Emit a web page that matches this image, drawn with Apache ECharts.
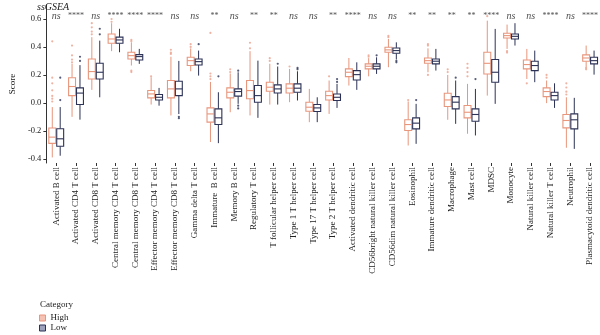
<!DOCTYPE html>
<html><head><meta charset="utf-8">
<script src="https://cdn.jsdelivr.net/npm/echarts@6/dist/echarts.min.js"></script>
<style>html,body{margin:0;padding:0;background:#fff}#c{width:600px;height:335px}</style>
</head><body><div id="c"></div>
<script>
const categories = ["Activated B cell","Activated CD4 T cell","Activated CD8 T cell","Central memory CD4 T cell","Central memory CD8 T cell","Effector memory CD4 T cell","Effector memory CD8 T cell","Gamma delta T cell","Immature  B cell","Memory B cell","Regulatory T cell","T follicular helper cell","Type 1 T helper cell","Type 17 T helper cell","Type 2 T helper cell","Activated dendritic cell","CD56bright natural killer cell","CD56dim natural killer cell","Eosinophil","Immature dendritic cell","Macrophage","Mast cell","MDSC","Monocyte","Natural killer cell","Natural killer T cell","Neutrophil","Plasmacytoid dendritic cell"];
const sigLabels = ["ns","****","ns","****","****","****","ns","ns","**","ns","**","**","ns","ns","**","****","ns","ns","**","**","**","**","****","ns","ns","****","ns","****"];
const yTicks = [-0.4,-0.2,0,0.2,0.4,0.6];
// [min, q1, median, q3, max]
const highBoxes = [
 [-0.39,-0.29,-0.245,-0.18,-0.03],
 [-0.10,0.052,0.117,0.18,0.28],
 [0.093,0.171,0.224,0.314,0.47],
 [0.37,0.426,0.457,0.493,0.57],
 [0.267,0.314,0.338,0.362,0.433],
 [-0.012,0.036,0.064,0.088,0.183],
 [-0.09,0.036,0.10,0.16,0.33],
 [0.226,0.267,0.302,0.326,0.39],
 [-0.28,-0.138,-0.079,-0.036,0.15],
 [-0.067,0.036,0.076,0.107,0.21],
 [-0.09,0.029,0.088,0.16,0.37],
 [-0.012,0.083,0.112,0.148,0.28],
 [0.005,0.071,0.105,0.136,0.243],
 [-0.138,-0.06,-0.031,0.005,0.10],
 [-0.079,0.021,0.052,0.083,0.16],
 [0.124,0.188,0.219,0.243,0.321],
 [0.19,0.243,0.262,0.279,0.32],
 [0.255,0.362,0.379,0.398,0.457],
 [-0.305,-0.198,-0.155,-0.121,0.01],
 [0.219,0.283,0.302,0.321,0.39],
 [-0.121,-0.026,0.021,0.069,0.20],
 [-0.221,-0.107,-0.067,-0.019,0.136],
 [0.052,0.207,0.283,0.362,0.588],
 [0.386,0.464,0.481,0.498,0.56],
 [0.171,0.243,0.274,0.307,0.386],
 [-0.002,0.045,0.081,0.107,0.16],
 [-0.321,-0.179,-0.126,-0.083,0.04],
 [0.255,0.298,0.321,0.343,0.41]
];
const lowBoxes = [
 [-0.378,-0.31,-0.257,-0.185,-0.03],
 [-0.12,-0.012,0.07,0.107,0.27],
 [0.04,0.171,0.219,0.283,0.445],
 [0.362,0.426,0.45,0.47,0.53],
 [0.279,0.307,0.331,0.345,0.386],
 [-0.02,0.021,0.04,0.06,0.107],
 [-0.08,0.052,0.10,0.155,0.30],
 [0.195,0.271,0.295,0.314,0.374],
 [-0.288,-0.155,-0.107,-0.043,0.076],
 [-0.007,0.048,0.081,0.10,0.219],
 [-0.107,0.005,0.052,0.124,0.302],
 [-0.012,0.071,0.10,0.129,0.26],
 [0.017,0.076,0.105,0.136,0.226],
 [-0.138,-0.062,-0.036,-0.012,0.04],
 [-0.036,0.017,0.04,0.064,0.136],
 [0.093,0.164,0.202,0.231,0.29],
 [0.207,0.243,0.262,0.279,0.326],
 [0.31,0.355,0.374,0.393,0.433],
 [-0.293,-0.186,-0.145,-0.107,-0.007],
 [0.231,0.279,0.298,0.314,0.386],
 [-0.15,-0.043,0.005,0.045,0.16],
 [-0.233,-0.131,-0.083,-0.043,0.10],
 [-0.007,0.148,0.219,0.31,0.529],
 [0.41,0.457,0.476,0.493,0.57],
 [0.148,0.231,0.267,0.298,0.374],
 [-0.036,0.021,0.052,0.076,0.14],
 [-0.329,-0.186,-0.121,-0.079,0.036],
 [0.202,0.279,0.302,0.326,0.374]
];
// [category index, value]
const highOutliers = [
 [0,0.44],[0,0.18],[0,0.14],[0,0.09],[0,0.05],[0,0.03],[0,0.01],
 [1,0.41],[1,0.34],[1,0.31],[1,0.29],
 [2,0.57],[2,0.54],[2,0.51],[2,0.49],
 [3,0.60],[3,0.58],
 [4,0.45],[4,0.44],[4,0.23],[4,0.22],
 [5,0.19],
 [6,0.38],[6,0.36],[6,0.35],
 [7,0.42],[7,0.40],
 [8,0.50],[8,0.21],[8,0.19],[8,0.17],
 [9,0.24],[9,0.22],
 [10,0.43],[10,0.39],
 [11,0.32],[11,0.30],
 [12,0.26],
 [14,0.19],
 [16,0.34],[16,0.33],
 [17,0.48],[17,0.47],
 [18,0.02],
 [19,0.42],[19,0.41],[19,0.20],
 [20,0.24],[20,0.22],
 [21,0.28],[21,0.25],[21,0.22],[21,0.19],
 [22,0.62],
 [23,0.37],[23,0.36],
 [24,0.14],
 [25,0.20],[25,0.18],
 [26,0.14],[26,0.11],[26,0.08],[26,0.06],
 [27,0.25],[27,0.24]
];
const lowOutliers = [
 [0,0.18],[0,0.02],
 [1,0.33],[1,0.30],
 [2,0.53],[2,0.49],
 [6,-0.10],[6,-0.11],
 [7,0.42],
 [8,0.19],
 [9,-0.02],[9,-0.04],[9,0.23],
 [11,0.28],
 [12,0.25],[12,0.24],
 [14,0.17],[14,0.15],
 [16,0.34],
 [17,0.30],[17,0.29],
 [18,0.02],
 [20,0.18],
 [21,0.17]
];

const HIGH = '#E8967C', LOW = '#2C3256';
const FONT = '"Liberation Serif","DejaVu Serif",serif';

function boxRender(sign, color) {
  return function (params, api) {
    const idx = api.value(0);
    const bw = api.size([1, 0])[0];
    const x0 = api.coord([idx, 0])[0] + sign * bw * 0.2;
    const w = bw * 0.35;
    const yMin = api.coord([idx, api.value(1)])[1];
    const yQ1 = api.coord([idx, api.value(2)])[1];
    const yMed = api.coord([idx, api.value(3)])[1];
    const yQ3 = api.coord([idx, api.value(4)])[1];
    const yMax = api.coord([idx, api.value(5)])[1];
    const ls = { stroke: color, lineWidth: 1, fill: null };
    return {
      type: 'group',
      children: [
        { type: 'line', shape: { x1: x0, y1: yMax, x2: x0, y2: yQ3 }, style: ls },
        { type: 'line', shape: { x1: x0, y1: yQ1, x2: x0, y2: yMin }, style: ls },
        { type: 'rect', shape: { x: x0 - w / 2, y: yQ3, width: w, height: yQ1 - yQ3 }, style: { fill: '#fff', stroke: color, lineWidth: 1.1 } },
        { type: 'line', shape: { x1: x0 - w / 2, y1: yMed, x2: x0 + w / 2, y2: yMed }, style: { stroke: color, lineWidth: 1.1 } }
      ]
    };
  };
}

const chart = echarts.init(document.getElementById('c'), null, { renderer: 'canvas' });
chart.setOption({
  animation: false,
  textStyle: { fontFamily: FONT },
  title: { text: 'ssGSEA', left: 37, top: 2, padding: 0, textStyle: { fontFamily: FONT, fontStyle: 'italic', fontWeight: 'normal', fontSize: 10, color: '#222' } },
  graphic: [{ type: 'text', left: 40, top: 300, style: { text: 'Category', font: '9px ' + FONT, fill: '#222' } }],
  legend: {
    orient: 'vertical', left: 39, top: 313, padding: 0, itemWidth: 6, itemHeight: 6, itemGap: 0,
    textStyle: { fontFamily: FONT, fontSize: 9, lineHeight: 10, color: '#222' },
    data: [
      { name: 'High', icon: 'rect', itemStyle: { color: '#F5C2B3', borderColor: HIGH, borderWidth: 1 } },
      { name: 'Low', icon: 'rect', itemStyle: { color: '#9EA2BC', borderColor: LOW, borderWidth: 1 } }
    ]
  },
  grid: { left: 40, right: 0, top: 5, bottom: 172 },
  xAxis: {
    type: 'category', data: categories,
    axisLine: { show: false, onZero: false },
    axisTick: { show: true, alignWithLabel: true, length: 3, lineStyle: { color: '#333' } },
    axisLabel: { rotate: 90, fontSize: 9, fontFamily: FONT, color: '#222', margin: 4, interval: 0 }
  },
  yAxis: {
    type: 'value', min: -0.43, max: 0.7,
    name: 'Score', nameLocation: 'middle', nameGap: 26,
    nameTextStyle: { fontFamily: FONT, fontSize: 9, color: '#222' },
    splitLine: { show: false },
    axisLine: { show: true, lineStyle: { color: '#333' } },
    axisTick: { show: true, length: 3, customValues: yTicks, lineStyle: { color: '#333' } },
    axisLabel: { customValues: yTicks, fontSize: 8.5, fontFamily: FONT, color: '#222', margin: 5, formatter: v => v.toFixed(1) }
  },
  series: [
    { name: 'High', type: 'custom', renderItem: boxRender(-1, HIGH), itemStyle: { color: HIGH },
      encode: { x: 0, y: [1, 2, 3, 4, 5] }, data: highBoxes.map((b, i) => [i].concat(b)), z: 2 },
    { name: 'Low', type: 'custom', renderItem: boxRender(1, LOW), itemStyle: { color: LOW },
      encode: { x: 0, y: [1, 2, 3, 4, 5] }, data: lowBoxes.map((b, i) => [i].concat(b)), z: 2 },
    { name: 'High', type: 'scatter', symbolSize: 2.2, symbolOffset: [-4, 0], itemStyle: { color: '#EBA08C' }, data: highOutliers, z: 3 },
    { name: 'Low', type: 'scatter', symbolSize: 2.2, symbolOffset: [4, 0], itemStyle: { color: LOW }, data: lowOutliers, z: 3 },
    { name: 'sig', type: 'scatter', symbolSize: 0, silent: true,
      data: sigLabels.map((s, i) => [i, 0.617]),
      label: { show: true, position: 'inside',
        formatter: p => sigLabels[p.dataIndex] === 'ns' ? '{ns|ns}' : '{st|' + sigLabels[p.dataIndex] + '}',
        rich: {
          ns: { fontFamily: FONT, fontStyle: 'italic', fontSize: 10, color: '#222' },
          st: { fontFamily: FONT, fontSize: 8, color: '#222', padding: [0, 0, 2, 0] }
        } } }
  ]
});
</script></body></html>
